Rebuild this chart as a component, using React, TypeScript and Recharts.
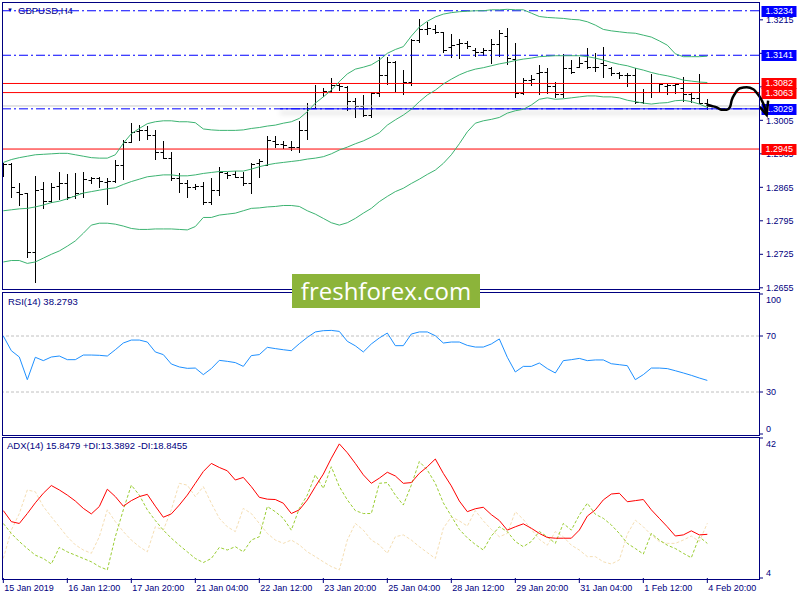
import React from "react";
import { ComposedChart, Line, Bar, XAxis, YAxis, ReferenceLine } from "recharts";

const NAVY = "#000080";
const BAND = "#3cb371";

// GBPUSD H4, bars from 15 Jan 04:00 to 4 Feb 20:00
const opens = [
  1.2898, 1.2914, 1.2855, 1.2853, 1.2729, 1.2861, 1.2837, 1.2868, 1.2873, 1.2847,
  1.2853, 1.288, 1.2885, 1.2877, 1.2878, 1.2912, 1.2959, 1.2983, 1.2985, 1.2974,
  1.2939, 1.2927, 1.2884, 1.2873, 1.2866, 1.2868, 1.2835, 1.2859, 1.2894, 1.2892,
  1.2887, 1.2873, 1.2916, 1.2912, 1.2962, 1.2956, 1.295, 1.2949, 1.2985, 1.303,
  1.3065, 1.3067, 1.3079, 1.3075, 1.3046, 1.3035, 1.3016, 1.3063, 1.31, 1.3126,
  1.3084, 1.3086, 1.3173, 1.3195, 1.3195, 1.3189, 1.3158, 1.3164, 1.3166, 1.3153,
  1.3148, 1.3151, 1.3165, 1.3181, 1.3134, 1.3063, 1.3089, 1.3103, 1.3105, 1.3077,
  1.3061, 1.3114, 1.3116, 1.3128, 1.3116, 1.3124, 1.3114, 1.3103, 1.31, 1.31,
  1.3044, 1.3065, 1.3082, 1.3077, 1.3079, 1.3072, 1.306, 1.3051, 1.3042,
];
const highs = [
  1.2915, 1.2915, 1.2873, 1.2853, 1.2889, 1.2876, 1.2873, 1.2896, 1.2893, 1.2894,
  1.2898, 1.2887, 1.2887, 1.2884, 1.2922, 1.2964, 1.2999, 1.2995, 1.2993, 1.2985,
  1.2962, 1.2938, 1.2894, 1.288, 1.2871, 1.2877, 1.2885, 1.2908, 1.2896, 1.2899,
  1.2897, 1.2916, 1.2924, 1.2972, 1.2972, 1.2962, 1.2962, 1.3004, 1.3041, 1.3079,
  1.3072, 1.3093, 1.3084, 1.3077, 1.3051, 1.3058, 1.3065, 1.3138, 1.3138, 1.3128,
  1.311, 1.3174, 1.3216, 1.3211, 1.3204, 1.319, 1.3185, 1.3174, 1.3171, 1.3156,
  1.3156, 1.3174, 1.3194, 1.3197, 1.3167, 1.3093, 1.31, 1.3121, 1.3114, 1.3086,
  1.3144, 1.3131, 1.3138, 1.3156, 1.3145, 1.3159, 1.3117, 1.3107, 1.3103, 1.3114,
  1.307, 1.3102, 1.3084, 1.3081, 1.3084, 1.3095, 1.3065, 1.3102, 1.3049,
];
const lows = [
  1.2889, 1.2845, 1.2827, 1.272, 1.2668, 1.2822, 1.2835, 1.2841, 1.2841, 1.2842,
  1.2845, 1.2875, 1.2865, 1.2831, 1.2877, 1.2882, 1.2959, 1.2964, 1.2965, 1.2924,
  1.2926, 1.288, 1.2855, 1.2845, 1.2862, 1.283, 1.283, 1.2848, 1.2884, 1.2886,
  1.287, 1.2854, 1.2887, 1.2912, 1.295, 1.2947, 1.2942, 1.2939, 1.2967, 1.303,
  1.3056, 1.3065, 1.3068, 1.3027, 1.3011, 1.3013, 1.3011, 1.3056, 1.3081, 1.3066,
  1.3059, 1.3079, 1.3169, 1.3185, 1.3188, 1.3148, 1.3137, 1.3135, 1.3156, 1.3139,
  1.3142, 1.3125, 1.3139, 1.3123, 1.3054, 1.3061, 1.3079, 1.3061, 1.3063, 1.3053,
  1.3054, 1.3103, 1.3116, 1.3114, 1.3109, 1.3095, 1.31, 1.3093, 1.3077, 1.3042,
  1.3041, 1.3054, 1.3065, 1.3061, 1.3063, 1.3046, 1.3044, 1.3041, 1.3028,
];
const closes = [
  1.2914, 1.2865, 1.2851, 1.2729, 1.2859, 1.2836, 1.2866, 1.2875, 1.2845, 1.2853,
  1.2882, 1.2884, 1.2878, 1.2879, 1.2912, 1.2959, 1.2981, 1.2985, 1.2974, 1.2939,
  1.2927, 1.2884, 1.2873, 1.2865, 1.2868, 1.2835, 1.2859, 1.2896, 1.2891, 1.2887,
  1.2873, 1.2914, 1.2921, 1.2964, 1.2956, 1.2953, 1.2949, 1.2985, 1.303, 1.3065,
  1.3067, 1.3079, 1.3077, 1.3046, 1.3035, 1.3016, 1.3063, 1.31, 1.3126, 1.3084,
  1.3086, 1.3173, 1.3195, 1.3197, 1.319, 1.3153, 1.3162, 1.3166, 1.316, 1.3148,
  1.3152, 1.3165, 1.3188, 1.3135, 1.3063, 1.3089, 1.3091, 1.3105, 1.3077, 1.3061,
  1.3114, 1.3105, 1.3124, 1.3116, 1.3117, 1.3121, 1.3103, 1.31, 1.31, 1.3044,
  1.3065, 1.3082, 1.3081, 1.3079, 1.3081, 1.306, 1.3051, 1.3042, 1.3035,
];

// Bollinger bands
const bbUpper = [
  1.2917, 1.2923, 1.2927, 1.293, 1.2933, 1.2934, 1.2935, 1.2936, 1.2936, 1.2933,
  1.293, 1.2927, 1.2926, 1.2926, 1.2933, 1.2957, 1.2977, 1.2988, 1.2998, 1.3002,
  1.3004, 1.3004, 1.3002, 1.3002, 1.3, 1.2987, 1.2985, 1.2984, 1.2984, 1.2984,
  1.2985, 1.2988, 1.299, 1.2993, 1.2995, 1.2999, 1.3002, 1.3009, 1.3023, 1.3041,
  1.3054, 1.3068, 1.3086, 1.3102, 1.3112, 1.3116, 1.3121, 1.3131, 1.3145, 1.3153,
  1.3159, 1.3181, 1.32, 1.3212, 1.3221, 1.3227, 1.323, 1.3232, 1.3233, 1.3234,
  1.3234, 1.3236, 1.3236, 1.3237, 1.3236, 1.3236, 1.3229, 1.3222, 1.322, 1.3219,
  1.3218, 1.3216, 1.3215, 1.3211, 1.3204, 1.3195, 1.3192, 1.319, 1.3188, 1.3187,
  1.3183, 1.3179, 1.3171, 1.3162, 1.3144, 1.3138, 1.3138, 1.3138, 1.3139,
];
const bbMiddle = [
  1.2816, 1.2818, 1.282, 1.2821, 1.2824, 1.2828, 1.2833, 1.2836, 1.2841, 1.2847,
  1.2853, 1.2856, 1.2859, 1.2862, 1.2864, 1.2871, 1.2877, 1.2882, 1.2887, 1.2889,
  1.2891, 1.2891, 1.2889, 1.2889, 1.2891, 1.2894, 1.2896, 1.2898, 1.2898, 1.2899,
  1.2899, 1.2903, 1.2908, 1.2912, 1.2915, 1.2917, 1.2919, 1.2921, 1.2924, 1.2926,
  1.2929, 1.2935, 1.2943, 1.2949, 1.2956, 1.2962, 1.297, 1.2979, 1.2995, 1.3006,
  1.3016, 1.3028, 1.3044, 1.3058, 1.3068, 1.3081, 1.3091, 1.31, 1.3107, 1.3112,
  1.3115, 1.3119, 1.3123, 1.3126, 1.313, 1.3133, 1.3135, 1.3138, 1.3139, 1.314,
  1.314, 1.314, 1.314, 1.3138, 1.3135, 1.3131, 1.3126, 1.3122, 1.3119, 1.3114,
  1.311, 1.3105, 1.3101, 1.3098, 1.3094, 1.3089, 1.3087, 1.3085, 1.3084,
];
const bbLower = [
  1.2709, 1.2712, 1.2712, 1.2706, 1.2709, 1.2717, 1.2725, 1.2732, 1.2742, 1.2753,
  1.2769, 1.2786, 1.279, 1.279, 1.2788, 1.2784, 1.2779, 1.2777, 1.2777, 1.2778,
  1.2778, 1.2778, 1.2777, 1.2776, 1.2783, 1.2802, 1.2802, 1.2807, 1.2809, 1.2811,
  1.2816, 1.2821, 1.2822, 1.2824, 1.2825, 1.2827, 1.2827, 1.2825, 1.2816, 1.2809,
  1.28, 1.2791, 1.2786, 1.2791, 1.28, 1.2811, 1.2821, 1.2835, 1.2846, 1.2856,
  1.2863, 1.2873, 1.2882, 1.2892, 1.2901, 1.2915, 1.2933, 1.2956, 1.2981, 1.2999,
  1.3004, 1.3007, 1.3011, 1.302, 1.3025, 1.3028, 1.3037, 1.3049, 1.3052, 1.3049,
  1.305, 1.3052, 1.3054, 1.3056, 1.3056, 1.3054, 1.3054, 1.3052, 1.3047, 1.3044,
  1.3041, 1.3039, 1.3041, 1.3042, 1.3046, 1.3047, 1.3044, 1.3039, 1.3032,
];

const rsi = [
  70.0, 59.5, 55.0, 38.8, 54.8, 52.4, 55.0, 55.7, 53.1, 53.1,
  56.4, 56.4, 56.2, 55.7, 60.2, 65.0, 67.1, 67.1, 65.7, 58.6,
  56.7, 50.0, 47.9, 46.9, 47.1, 42.4, 46.7, 52.6, 51.9, 51.0,
  48.3, 56.0, 56.7, 61.9, 61.0, 60.2, 59.5, 64.5, 69.0, 72.9,
  73.8, 74.0, 73.3, 66.2, 63.0, 58.6, 64.3, 68.6, 72.1, 63.1,
  63.1, 71.4, 72.9, 72.9, 70.2, 65.0, 65.7, 65.7, 63.3, 62.1,
  62.1, 64.3, 67.9, 54.8, 44.3, 48.3, 48.3, 50.7, 46.7, 43.6,
  52.4, 53.1, 54.0, 52.4, 52.9, 52.9, 50.2, 49.5, 48.8, 38.8,
  42.4, 47.1, 47.1, 46.7, 45.2, 43.6, 41.9, 40.0, 38.28,
];

const adx = [
  22.3, 19.3, 18.8, 21.5, 24.4, 27.0, 29.1, 27.9, 26.5, 24.9,
  22.9, 21.4, 23.4, 28.1, 26.1, 23.5, 25.0, 26.1, 26.7, 23.5,
  20.5, 21.4, 23.8, 26.5, 29.7, 32.9, 35.1, 34.0, 33.1, 30.6,
  31.3, 28.8, 25.9, 25.4, 25.3, 24.3, 21.5, 22.5, 25.2, 28.8,
  32.2, 36.5, 40.4, 38.0, 35.1, 32.0, 29.7, 31.1, 32.7, 31.7,
  29.7, 29.9, 32.4, 34.2, 36.3, 32.4, 29.0, 24.9, 22.0, 22.8,
  23.2, 21.2, 19.6, 17.0, 17.9, 18.7, 17.5, 16.1, 15.0, 14.8,
  14.8, 14.8, 17.0, 20.8, 22.5, 25.2, 26.8, 27.0, 24.7, 25.0,
  25.3, 22.5, 20.2, 17.9, 15.4, 15.7, 16.8, 15.7, 15.85,
];
const plusDi = [
  18.8, 16.1, 13.9, 12.0, 10.2, 9.3, 7.8, 12.3, 11.1, 10.2,
  9.3, 8.4, 7.1, 6.2, 15.2, 22.5, 29.2, 26.5, 22.5, 19.6,
  17.0, 14.8, 12.9, 11.1, 9.3, 8.2, 9.3, 12.3, 11.6, 12.5,
  11.1, 14.3, 15.2, 23.4, 22.0, 20.2, 17.0, 22.9, 26.5, 32.0,
  28.3, 34.2, 28.8, 25.2, 22.3, 21.5, 21.5, 29.7, 29.9, 26.5,
  23.8, 29.2, 35.6, 33.3, 29.7, 24.4, 20.8, 17.2, 14.9, 13.1,
  11.6, 15.4, 17.9, 16.6, 13.9, 12.5, 13.9, 16.6, 15.2, 13.4,
  18.8, 17.0, 21.1, 24.3, 21.3, 20.2, 18.4, 16.1, 13.4, 12.0,
  10.5, 16.1, 14.3, 12.9, 12.0, 10.7, 9.5, 15.2, 13.39,
];
const minusDi = [
  9.3, 17.0, 21.5, 27.9, 27.4, 23.4, 20.6, 17.9, 15.2, 13.0,
  11.6, 10.7, 15.2, 22.5, 19.3, 16.6, 14.3, 12.5, 11.1, 17.9,
  17.0, 22.5, 29.7, 29.2, 26.1, 28.8, 24.3, 20.2, 17.9, 16.6,
  22.9, 21.5, 18.8, 16.1, 14.3, 13.4, 14.3, 13.0, 11.1, 9.8,
  8.4, 7.1, 6.2, 14.3, 18.8, 17.0, 14.3, 13.0, 10.7, 15.2,
  15.7, 14.3, 12.5, 10.9, 9.3, 17.5, 20.6, 19.5, 18.1, 22.3,
  19.5, 17.2, 15.2, 16.1, 22.0, 19.9, 17.2, 14.5, 12.9, 16.6,
  15.2, 12.9, 11.6, 9.8, 9.8, 8.4, 7.8, 8.9, 15.9, 19.7,
  17.9, 15.7, 13.9, 13.4, 13.4, 14.3, 15.4, 13.9, 18.85,
];

const timeTickBars = [0, 8, 16, 24, 32, 40, 48, 56, 64, 72, 80, 88];
const timeLabels = [
  "15 Jan 2019", "16 Jan 12:00", "17 Jan 20:00", "21 Jan 04:00", "22 Jan 12:00", "23 Jan 20:00",
  "25 Jan 04:00", "28 Jan 12:00", "29 Jan 20:00", "31 Jan 04:00", "1 Feb 12:00", "4 Feb 20:00",
];
const priceTicks = [1.2655, 1.2725, 1.2795, 1.2865, 1.2935, 1.3005, 1.3075, 1.3145, 1.3215];
// scale labels that sit fully under a price tag
const coveredTicks = [1.3075, 1.3145];
const blueLevels = [1.3234, 1.3141, 1.3029];
const redLevels = [1.3082, 1.3063, 1.2945];
const trendStartBar = 34.6;
const trendPrice = 1.3029;

// hand drawn forecast arrow
const arrowBars = [87.9, 88.55, 89.18, 89.8, 90.43, 90.84, 91.05, 91.46, 92.09, 92.93, 93.75, 94.38, 94.8, 95.21, 95.42];
const arrowPrices = [1.3038, 1.3035, 1.3032, 1.3027, 1.3027, 1.3033, 1.3047, 1.3061, 1.3072, 1.3074, 1.307, 1.3058, 1.3047, 1.303, 1.3016];
const arrowHeadBars = [94.55, 95.42, 95.6];
const arrowHeadPrices = [1.3033, 1.3016, 1.3046];

const X_DOMAIN: [number, number] = [-0.04, 94.46];
const OVERLAY_X: [number, number] = [-0.04, 99.585];
const PRICE_DOMAIN: [number, number] = [1.26504, 1.32502];

const mainData = opens.map((o, i) => ({
  i,
  o,
  h: highs[i],
  l: lows[i],
  c: closes[i],
  range: [lows[i], highs[i]],
  up: bbUpper[i],
  mid: bbMiddle[i],
  lo: bbLower[i],
}));
const rsiData = rsi.map((v, i) => ({ i, rsi: v }));
const adxData = adx.map((v, i) => ({ i, adx: v, pdi: plusDi[i], mdi: minusDi[i] }));
const arrowData = arrowBars.map((i, k) => ({ i, p: arrowPrices[k] }));
const arrowHeadData = arrowHeadBars.map((i, k) => ({ i, p: arrowHeadPrices[k] }));

const OhlcShape = (props: any) => {
  const { x, y, width, height } = props;
  const d = props.payload ?? props;
  const cx = Math.floor(x + width / 2) + 0.5;
  const top = Math.min(y, y + height);
  const span = Math.abs(height);
  const range = d.h - d.l;
  const toY = (v: number) => Math.round(range > 0 ? top + ((d.h - v) / range) * span : top) + 0.5;
  return (
    <g stroke="#000" strokeWidth={1}>
      <line x1={cx} x2={cx} y1={Math.round(top)} y2={Math.round(top + span) + 1} />
      <line x1={cx - 3} x2={cx} y1={toY(d.o)} y2={toY(d.o)} />
      <line x1={cx} x2={cx + 3.5} y1={toY(d.c)} y2={toY(d.c)} />
    </g>
  );
};

const ShadowLine = (p: any) => (
  <line x1={p.x1} y1={p.y1} x2={p.x2} y2={p.y2} stroke="#0000ff" strokeWidth={1} filter="url(#trendShadow)" />
);

const PriceTag = ({ viewBox, text, color }: any) => {
  if (!viewBox) return null;
  const x = viewBox.x + viewBox.width - 38.5;
  const y = Math.round(viewBox.y);
  return (
    <g>
      <rect x={x} y={y - 5} width={35} height={11} fill={color} />
      <text x={x + 4} y={y} dy="0.36em" fill="#fff" fontSize={9}>
        {text}
      </text>
    </g>
  );
};

const clampTick = (top: number, bottom: number) => (props: any) => {
  const { x, y, payload } = props;
  const yy = Math.min(Math.max(y, top), bottom);
  return (
    <text x={x} y={yy} dy="0.36em" fill={NAVY} fontSize={9} textAnchor="start">
      {payload.value}
    </text>
  );
};

const TimeTick = (props: any) => {
  const { x, y, payload } = props;
  const k = timeTickBars.indexOf(payload.value);
  return (
    <text x={x + 1} y={y} dy="0.71em" fill={NAVY} fontSize={9} textAnchor="start">
      {timeLabels[k]}
    </text>
  );
};

const panelBorder = (top: number, height: number): React.CSSProperties => ({
  position: "absolute",
  left: 2,
  top,
  width: 758,
  height,
  boxSizing: "border-box",
  border: `1px solid ${NAVY}`,
  pointerEvents: "none",
});

const abs = (top: number): React.CSSProperties => ({ position: "absolute", left: 0, top });

export default function App() {
  return (
    <div
      style={{
        position: "absolute",
        left: 0,
        top: 0,
        width: 800,
        height: 600,
        background: "#fff",
        overflow: "hidden",
        fontFamily: "'Liberation Sans', Arial, sans-serif",
      }}
    >
      <svg width={0} height={0} style={{ position: "absolute" }}>
        <defs>
          <filter id="trendShadow" filterUnits="userSpaceOnUse" x={0} y={0} width={800} height={300}>
            <feDropShadow dx={0} dy={4} stdDeviation={2.5} floodColor="#000" floodOpacity={0.35} />
          </filter>
        </defs>
      </svg>

      <div style={{ position: "absolute", left: 7, top: 5, fontSize: 6, color: NAVY, lineHeight: "11px" }}>▼</div>
      <div style={{ position: "absolute", left: 18, top: 5, fontSize: 9.5, color: NAVY, lineHeight: "11px" }}>GBPUSD,H4</div>
      <div style={{ position: "absolute", left: 8, top: 296, fontSize: 9.5, color: NAVY, lineHeight: "11px" }}>RSI(14) 38.2793</div>
      <div style={{ position: "absolute", left: 7, top: 440, fontSize: 9.5, color: NAVY, lineHeight: "11px" }}>
        ADX(14) 15.8479 +DI:13.3892 -DI:18.8455
      </div>

      {/* price panel */}
      <div style={abs(0)}>
        <ComposedChart width={800} height={292} data={mainData} margin={{ top: 3, right: 0, bottom: 2, left: 3 }}>
          <ReferenceLine y={closes[closes.length - 1]} stroke="#c8c8c8" />
          {blueLevels.map((p) => (
            <ReferenceLine key={p} y={p} stroke="#0000ff" strokeDasharray="9 3 2 3" />
          ))}
          {redLevels.map((p) => (
            <ReferenceLine key={p} y={p} stroke="#ff0000" />
          ))}
          <ReferenceLine
            segment={[
              { x: trendStartBar, y: trendPrice },
              { x: X_DOMAIN[1], y: trendPrice },
            ]}
            stroke="#0000ff"
            shape={ShadowLine}
          />
          <Line dataKey="up" stroke={BAND} dot={false} strokeWidth={1} isAnimationActive={false} />
          <Line dataKey="mid" stroke={BAND} dot={false} strokeWidth={1} isAnimationActive={false} />
          <Line dataKey="lo" stroke={BAND} dot={false} strokeWidth={1} isAnimationActive={false} />
          <Bar dataKey="range" barSize={6} shape={OhlcShape} isAnimationActive={false} />
          <XAxis hide type="number" dataKey="i" domain={X_DOMAIN} allowDataOverflow />
          <YAxis
            orientation="right"
            type="number"
            width={41}
            domain={PRICE_DOMAIN}
            allowDataOverflow
            ticks={priceTicks}
            interval={0}
            tickFormatter={(v: number) => (coveredTicks.includes(v) ? "" : v.toFixed(4))}
            axisLine={false}
            tickLine={{ stroke: NAVY }}
            tickSize={4}
            tickMargin={3}
            tick={{ fill: NAVY, fontSize: 9 }}
          />
        </ComposedChart>
      </div>

      {/* price tags */}
      <div style={abs(0)}>
        <ComposedChart width={800} height={292} data={arrowData} margin={{ top: 3, right: 0, bottom: 2, left: 3 }}>
          <XAxis hide type="number" dataKey="i" domain={OVERLAY_X} allowDataOverflow />
          <YAxis hide type="number" domain={PRICE_DOMAIN} allowDataOverflow />
          {blueLevels.map((p) => (
            <ReferenceLine key={p} y={p} stroke="none" label={<PriceTag text={p.toFixed(4)} color="#0000ff" />} />
          ))}
          {redLevels.map((p) => (
            <ReferenceLine key={p} y={p} stroke="none" label={<PriceTag text={p.toFixed(4)} color="#ff0000" />} />
          ))}
        </ComposedChart>
      </div>

      {/* forecast arrow */}
      <div style={abs(0)}>
        <ComposedChart width={800} height={292} data={arrowData} margin={{ top: 3, right: 0, bottom: 2, left: 3 }}>
          <XAxis hide type="number" dataKey="i" domain={OVERLAY_X} allowDataOverflow />
          <YAxis hide type="number" domain={PRICE_DOMAIN} allowDataOverflow />
          <Line data={arrowData} dataKey="p" type="monotone" stroke="#000" strokeWidth={2.5} dot={false} isAnimationActive={false} />
          <Line data={arrowHeadData} dataKey="p" type="linear" stroke="#000" strokeWidth={2.5} dot={false} isAnimationActive={false} />
        </ComposedChart>
      </div>

      {/* RSI panel */}
      <div style={abs(290)}>
        <ComposedChart width={800} height={146} data={rsiData} margin={{ top: 4, right: 0, bottom: 2, left: 3 }}>
          <ReferenceLine y={70} stroke="#c0c0c0" strokeDasharray="3 2" />
          <ReferenceLine y={30} stroke="#c0c0c0" strokeDasharray="3 2" />
          <Line dataKey="rsi" stroke="#1e90ff" dot={false} strokeWidth={1} isAnimationActive={false} />
          <XAxis hide type="number" dataKey="i" domain={X_DOMAIN} allowDataOverflow />
          <YAxis
            orientation="right"
            type="number"
            width={41}
            domain={[0, 100]}
            ticks={[0, 30, 70, 100]}
            interval={0}
            axisLine={false}
            tickLine={{ stroke: NAVY }}
            tickSize={4}
            tickMargin={3}
            tick={clampTick(10, 139)}
          />
        </ComposedChart>
      </div>

      {/* ADX panel */}
      <div style={abs(436)}>
        <ComposedChart width={800} height={162} data={adxData} margin={{ top: 2, right: 0, bottom: 0, left: 3 }}>
          <Line dataKey="mdi" stroke="#f5deb3" strokeDasharray="3 2" dot={false} strokeWidth={1} isAnimationActive={false} />
          <Line dataKey="pdi" stroke="#9acd32" strokeDasharray="3 2" dot={false} strokeWidth={1} isAnimationActive={false} />
          <Line dataKey="adx" stroke="#ff0000" dot={false} strokeWidth={1} isAnimationActive={false} />
          <XAxis
            type="number"
            dataKey="i"
            domain={X_DOMAIN}
            allowDataOverflow
            ticks={timeTickBars}
            interval={0}
            height={20}
            axisLine={false}
            tickLine={{ stroke: NAVY }}
            tickSize={5}
            tickMargin={2}
            tick={TimeTick}
          />
          <YAxis
            orientation="right"
            type="number"
            width={41}
            domain={[4, 42]}
            ticks={[4, 42]}
            interval={0}
            axisLine={false}
            tickLine={{ stroke: NAVY }}
            tickSize={4}
            tickMargin={3}
            tick={clampTick(8, 137)}
          />
        </ComposedChart>
      </div>

      <div style={panelBorder(2, 288)} />
      <div style={panelBorder(292, 144)} />
      <div style={panelBorder(437, 143)} />

      <div
        style={{
          position: "absolute",
          left: 292,
          top: 274,
          width: 188,
          height: 34,
          background: "#8cb43a",
          color: "#fff",
          fontFamily: "'Open Sans', sans-serif",
          fontSize: 24,
          lineHeight: "34px",
          textAlign: "center",
        }}
      >
        freshforex.com
      </div>
    </div>
  );
}
